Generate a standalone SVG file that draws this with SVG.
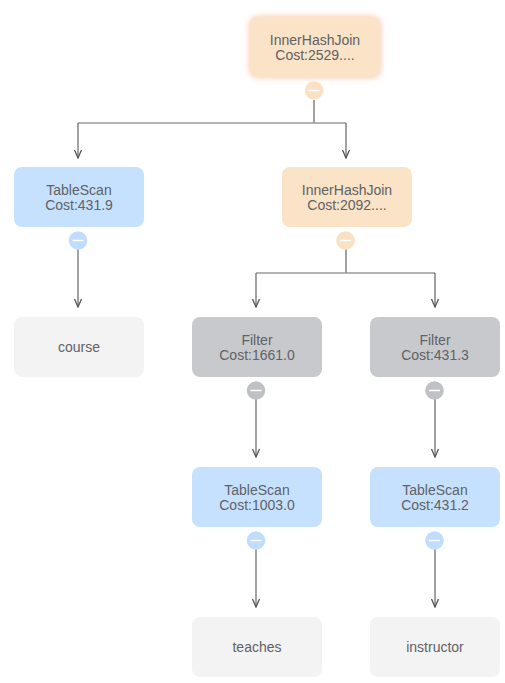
<svg xmlns="http://www.w3.org/2000/svg" width="505" height="683" viewBox="0 0 505 683">
<defs>
<marker id="arr" viewBox="0 0 10 10" refX="9" refY="5" markerWidth="10" markerHeight="10" markerUnits="userSpaceOnUse" orient="auto">
<path d="M1,1.5 L9,5 L1,8.5" fill="none" stroke="#555" stroke-width="1.3"/>
</marker>
<filter id="glow" x="-30%" y="-40%" width="160%" height="180%">
<feGaussianBlur in="SourceAlpha" stdDeviation="3"/>
<feFlood flood-color="#ffb38a" flood-opacity="0.9"/>
<feComposite operator="in" in2="SourceAlpha"/>
<feGaussianBlur stdDeviation="3"/>
<feMerge><feMergeNode/><feMergeNode in="SourceGraphic"/></feMerge>
</filter>
</defs>
<style>
text{font-family:"Liberation Sans",Arial,sans-serif;font-size:14px;fill:#606266;text-anchor:middle}
.orange{fill:#fae3c6}
.blue{fill:#c6e1fd}
.gray{fill:#c8c9cc}
.leaf{fill:#f3f3f3}
.corange{fill:#fbe1c4}
.cblue{fill:#c1ddfd}
.cgray{fill:#c0c1c5}
.dash{stroke:#fff;stroke-width:1.5}
.edge{fill:none;stroke:#555;stroke-width:1.1}
.hedge{fill:none;stroke:#999;stroke-width:1.3}
</style>
<g id="connectors">
<path class="edge" d="M314,100 V123"/>
<path class="hedge" d="M78,123 H346"/>
<path class="edge" d="M78,123 V158" marker-end="url(#arr)"/>
<path class="edge" d="M346,123 V158" marker-end="url(#arr)"/>
<path class="edge" d="M78,249 V307" marker-end="url(#arr)"/>
<path class="edge" d="M346,249 V273"/>
<path class="hedge" d="M256,273 H435"/>
<path class="edge" d="M256,273 V307" marker-end="url(#arr)"/>
<path class="edge" d="M435,273 V307" marker-end="url(#arr)"/>
<path class="edge" d="M256,399 V457" marker-end="url(#arr)"/>
<path class="edge" d="M435,399 V457" marker-end="url(#arr)"/>
<path class="edge" d="M256,549 V607" marker-end="url(#arr)"/>
<path class="edge" d="M435,549 V607" marker-end="url(#arr)"/>
</g>
<g id="n_ihj1">
<rect class="orange" x="250" y="17" width="130" height="60" rx="8" filter="url(#glow)"/>
<text x="315" y="45">InnerHashJoin</text>
<text x="315" y="60">Cost:2529....</text>
<circle class="corange" cx="314" cy="90.5" r="9.3"/>
<path class="dash" d="M308.5,90.5 H319.5"/>
</g>
<g id="n_ts1">
<rect class="blue" x="14" y="167" width="130" height="60" rx="8"/>
<text x="79" y="195">TableScan</text>
<text x="79" y="210">Cost:431.9</text>
<circle class="cblue" cx="78" cy="240.5" r="9.3"/>
<path class="dash" d="M72.5,240.5 H83.5"/>
</g>
<g id="n_course">
<rect class="leaf" x="14" y="317" width="130" height="60" rx="8"/>
<text x="79" y="352">course</text>
</g>
<g id="n_ihj2">
<rect class="orange" x="282" y="167" width="130" height="60" rx="8"/>
<text x="347" y="195">InnerHashJoin</text>
<text x="347" y="210">Cost:2092....</text>
<circle class="corange" cx="345.5" cy="240.5" r="9.3"/>
<path class="dash" d="M340,240.5 H351"/>
</g>
<g id="n_filter1">
<rect class="gray" x="192" y="317" width="130" height="60" rx="8"/>
<text x="257" y="345">Filter</text>
<text x="257" y="360">Cost:1661.0</text>
<circle class="cgray" cx="256" cy="390.5" r="9.3"/>
<path class="dash" d="M250.5,390.5 H261.5"/>
</g>
<g id="n_filter2">
<rect class="gray" x="370" y="317" width="130" height="60" rx="8"/>
<text x="435" y="345">Filter</text>
<text x="435" y="360">Cost:431.3</text>
<circle class="cgray" cx="434.5" cy="390.5" r="9.3"/>
<path class="dash" d="M429,390.5 H440"/>
</g>
<g id="n_ts2">
<rect class="blue" x="192" y="467" width="130" height="60" rx="8"/>
<text x="257" y="495">TableScan</text>
<text x="257" y="510">Cost:1003.0</text>
<circle class="cblue" cx="256" cy="540.5" r="9.3"/>
<path class="dash" d="M250.5,540.5 H261.5"/>
</g>
<g id="n_ts3">
<rect class="blue" x="370" y="467" width="130" height="60" rx="8"/>
<text x="435" y="495">TableScan</text>
<text x="435" y="510">Cost:431.2</text>
<circle class="cblue" cx="434.5" cy="540.5" r="9.3"/>
<path class="dash" d="M429,540.5 H440"/>
</g>
<g id="n_teaches">
<rect class="leaf" x="192" y="617" width="130" height="60" rx="8"/>
<text x="257" y="652">teaches</text>
</g>
<g id="n_instructor">
<rect class="leaf" x="370" y="617" width="130" height="60" rx="8"/>
<text x="435" y="652">instructor</text>
</g>
</svg>
